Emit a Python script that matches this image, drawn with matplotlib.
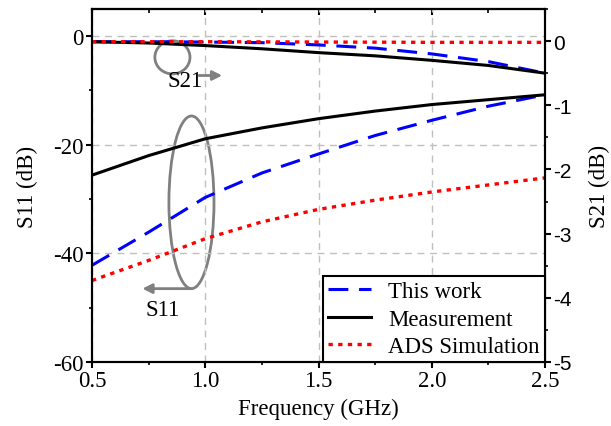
import matplotlib
matplotlib.use("Agg")
from matplotlib import pyplot as plt
from matplotlib.patches import Ellipse
from matplotlib.ticker import MultipleLocator

freq = [0.5, 0.75, 1.0, 1.25, 1.5, 1.75, 2.0, 2.25, 2.5]

# S11 (left axis, dB)
s11_this_work = [-42.2, -36.1, -29.7, -25.2, -21.7, -18.3, -15.5, -12.9, -10.8]
s11_measured = [-25.6, -22.0, -18.9, -16.9, -15.2, -13.8, -12.6, -11.7, -10.8]
s11_ads = [-45.0, -41.3, -37.3, -34.2, -31.9, -30.2, -28.7, -27.4, -26.1]

# S21 (right axis, dB)
s21_this_work = [-0.01, -0.01, -0.015, -0.025, -0.06, -0.11, -0.20, -0.32, -0.50]
s21_measured = [-0.01, -0.03, -0.07, -0.12, -0.18, -0.23, -0.30, -0.38, -0.50]
s21_ads = [-0.01, -0.01, -0.01, -0.012, -0.015, -0.017, -0.02, -0.02, -0.02]

labels = ["This work", "Measurement", "ADS Simulation"]

SERIF = "Liberation Serif"
SANS = "Liberation Sans"
FS = 16.5

plt.rcParams['font.family'] = SERIF
plt.rcParams['axes.linewidth'] = 1.5

fig = plt.figure(figsize=(6.11, 4.27), dpi=100)
ax = fig.add_axes([0.1506, 0.150, 0.7414, 0.8266])
ax2 = ax.twinx()

blue_style = dict(color='#0000ff', lw=2.2, dashes=(6.5, 3.5))
black_style = dict(color='black', lw=2.2)
red_style = dict(color='#ff0000', lw=2.4, dashes=(1.3, 1.6))

ax.plot(freq, s11_this_work, **blue_style)
ax.plot(freq, s11_measured, **black_style)
ax.plot(freq, s11_ads, **red_style)

h1, = ax2.plot(freq, s21_this_work, **blue_style)
h2, = ax2.plot(freq, s21_measured, **black_style)
h3, = ax2.plot(freq, s21_ads, **red_style)

ax.set_xlim(0.5, 2.5)
ax.set_ylim(-60, 5)
ax2.set_ylim(-5, 0.5)

ax.xaxis.set_minor_locator(MultipleLocator(0.25))
ax.yaxis.set_minor_locator(MultipleLocator(10))
ax2.yaxis.set_minor_locator(MultipleLocator(0.5))

ax.set_xticks([0.5, 1.0, 1.5, 2.0, 2.5])
ax.set_xticklabels(["0.5", "1.0", "1.5", "2.0", "2.5"])
ax.set_yticks([-60, -40, -20, 0])
ax.set_yticklabels(["-60", "-40", "-20", "0"])
ax2.set_yticks([-5, -4, -3, -2, -1, 0])
ax2.set_yticklabels(["-5", "-4", "-3", "-2", "-1", "0"], fontfamily=SANS, fontsize=15)

ax.grid(True, which='major', color='#c0c0c0', lw=1.0, dashes=(5, 4))

ax.tick_params(axis='both', which='major', direction='out', length=4, width=1.5,
               labelsize=FS, top=False, pad=2)
ax.tick_params(axis='both', which='minor', direction='out', length=2.5, width=1.2,
               top=False)
ax2.tick_params(axis='y', which='major', direction='out', length=4, width=1.5, pad=2)
ax2.tick_params(axis='y', which='minor', direction='out', length=2.5, width=1.2)

# top axis: inward ticks only
top = ax.secondary_xaxis('top')
top.xaxis.set_major_locator(MultipleLocator(0.5))
top.xaxis.set_minor_locator(MultipleLocator(0.25))
top.tick_params(which='major', direction='in', length=4, width=1.5, labeltop=False)
top.tick_params(which='minor', direction='in', length=3, width=1.2)

ax.set_xlabel("Frequency (GHz)", fontsize=FS, labelpad=5)
ax.set_ylabel("S11 (dB)", fontsize=FS, labelpad=11)
ax2.set_ylabel("S21 (dB)", fontsize=FS, labelpad=12)

# annotations
gray = '#808080'
ax.add_patch(Ellipse((0.855, -3.9), 0.155, 6.1, fill=False, ec=gray, lw=2))
ax.annotate("", xy=(1.087, -7.25), xytext=(0.96, -7.25),
            arrowprops=dict(arrowstyle='-|>', color=gray, lw=2, mutation_scale=14))
ax.text(0.91, -8.2, "S21", fontsize=FS, ha='center', va='center')

ax.add_patch(Ellipse((0.939, -30.6), 0.199, 31.8, fill=False, ec=gray, lw=2))
ax.annotate("", xy=(0.71, -46.5), xytext=(0.947, -46.5),
            arrowprops=dict(arrowstyle='-|>', color=gray, lw=2, mutation_scale=14))
ax.text(0.81, -50.3, "S11", fontsize=FS, ha='center', va='center')

leg = ax2.legend([h1, h2, h3], labels, loc='lower right', fontsize=FS,
                 fancybox=False, framealpha=1, edgecolor='black',
                 handlelength=1.9, handletextpad=0.75, labelspacing=0.27,
                 borderpad=0.22, borderaxespad=0.0)
leg.get_frame().set_linewidth(1.5)

fig.savefig("out.png", dpi=100)
